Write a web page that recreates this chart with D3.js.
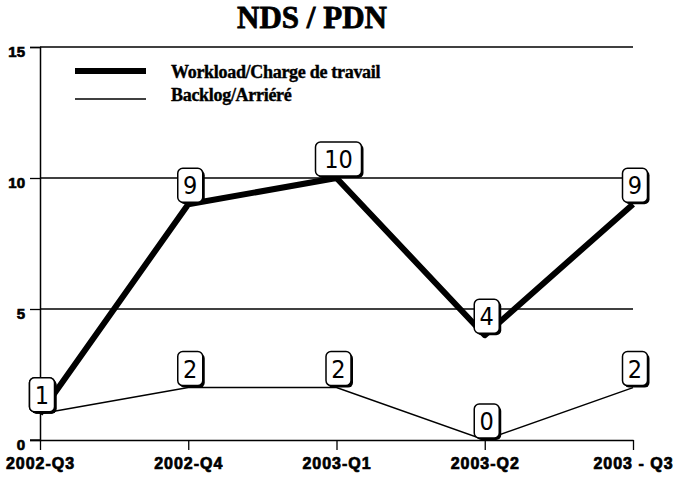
<!DOCTYPE html>
<html>
<head>
<meta charset="utf-8">
<script src="https://cdn.jsdelivr.net/npm/d3@7"></script>
<style>
  body { margin: 0; background: #fff; }
  svg { display: block; }
</style>
</head>
<body>
<script>
// chart data
const quarters = ["2002-Q3", "2002-Q4", "2003-Q1", "2003-Q2", "2003 - Q3"];
const workload = [1, 9, 10, 4, 9];
const backlog = [1, 2, 2, 0, 2];
const yTicks = [0, 5, 10, 15];
const seriesNames = ["Workload/Charge de travail", "Backlog/Arriéré"];

const width = 673, height = 480;

const svg = d3.select("body").append("svg")
  .attr("width", width)
  .attr("height", height);

const x = d3.scalePoint().domain(quarters).range([40, 633]);
const y = d3.scaleLinear().domain([0, 15]).range([440, 47]);

// title
svg.append("text")
  .attr("x", 312)
  .attr("y", 28)
  .attr("text-anchor", "middle")
  .attr("font-family", "Liberation Serif, Times New Roman, serif")
  .attr("font-weight", "bold")
  .attr("font-size", 31)
  .attr("stroke", "#000")
  .attr("stroke-width", 0.8)
  .text("NDS / PDN");

// grid lines
svg.append("g")
  .selectAll("line")
  .data(yTicks.filter(d => d > 0))
  .join("line")
  .attr("x1", 40).attr("x2", 633)
  .attr("y1", d => y(d)).attr("y2", d => y(d))
  .attr("stroke", "#000")
  .attr("stroke-width", 1.3);

// y axis
const yAxis = svg.append("g")
  .attr("transform", "translate(40,0)")
  .call(d3.axisLeft(y).tickValues(yTicks).tickSize(10).tickPadding(5));
yAxis.select(".domain").attr("stroke-width", 1.5);
yAxis.selectAll(".tick line").attr("stroke-width", 1.3);
yAxis.selectAll("text")
  .attr("font-family", "Liberation Sans, Arial, sans-serif")
  .attr("font-weight", "bold")
  .attr("font-size", 15)
  .attr("stroke", "#000")
  .attr("stroke-width", 0.7)
  .attr("dy", "0.65em");

// x axis
const xAxis = svg.append("g")
  .attr("transform", "translate(0,440)")
  .call(d3.axisBottom(x).tickSize(10).tickPadding(8).tickSizeOuter(0));
xAxis.select(".domain").attr("stroke-width", 1.5);
xAxis.selectAll(".tick line").attr("stroke-width", 1.3);
xAxis.selectAll("text")
  .attr("font-family", "Liberation Sans, Arial, sans-serif")
  .attr("font-weight", "bold")
  .attr("font-size", 16)
  .attr("stroke", "#000")
  .attr("stroke-width", 0.7)
  .attr("letter-spacing", 1);
svg.append("line")
  .attr("x1", 30).attr("x2", 40)
  .attr("y1", y(0)).attr("y2", y(0))
  .attr("stroke", "#000").attr("stroke-width", 1.3);

// lines
const line = d3.line()
  .x((d, i) => x(quarters[i]))
  .y(d => y(d));

svg.append("path")
  .datum(backlog)
  .attr("d", line)
  .attr("fill", "none")
  .attr("stroke", "#000")
  .attr("stroke-width", 1.5);

svg.append("path")
  .datum(workload)
  .attr("d", line)
  .attr("fill", "none")
  .attr("stroke", "#000")
  .attr("stroke-linejoin", "round")
  .attr("stroke-width", 6);

// value labels in rounded boxes
function addLabels(values) {
  const g = svg.append("g")
    .selectAll("g")
    .data(values)
    .join("g")
    .attr("transform", (d, i) => `translate(${x(quarters[i]) + 2},${y(d) - 2})`);
  g.each(function (d) {
    const el = d3.select(this);
    const w = String(d).length > 1 ? 46 : 25;
    el.append("rect")
      .attr("x", -w / 2 + 2).attr("y", -34 + 2)
      .attr("width", w).attr("height", 34)
      .attr("rx", 5)
      .attr("fill", "#000");
    el.append("rect")
      .attr("x", -w / 2).attr("y", -34)
      .attr("width", w).attr("height", 34)
      .attr("rx", 5)
      .attr("fill", "#fff")
      .attr("stroke", "#000")
      .attr("stroke-width", 1.5);
    el.append("text")
      .attr("x", 0).attr("y", -8)
      .attr("text-anchor", "middle")
      .attr("font-family", "DejaVu Sans Condensed, DejaVu Sans, sans-serif")
      .attr("font-stretch", "condensed")
      .attr("font-size", 25)
      .text(d);
  });
}
addLabels(backlog);
addLabels(workload);

// legend
const legend = svg.append("g");
const legendY = [71, 99];
const legendW = [6, 1.5];
seriesNames.forEach((name, i) => {
  legend.append("line")
    .attr("x1", 75).attr("x2", 146)
    .attr("y1", legendY[i]).attr("y2", legendY[i])
    .attr("stroke", "#000")
    .attr("stroke-width", legendW[i]);
  legend.append("text")
    .attr("x", 171)
    .attr("y", i === 0 ? 78 : 101)
    .attr("font-family", "Liberation Serif, Times New Roman, serif")
    .attr("font-weight", "bold")
    .attr("font-size", 18)
    .attr("letter-spacing", -0.3)
    .attr("stroke", "#000")
    .attr("stroke-width", 0.4)
    .text(name);
});
</script>
</body>
</html>
